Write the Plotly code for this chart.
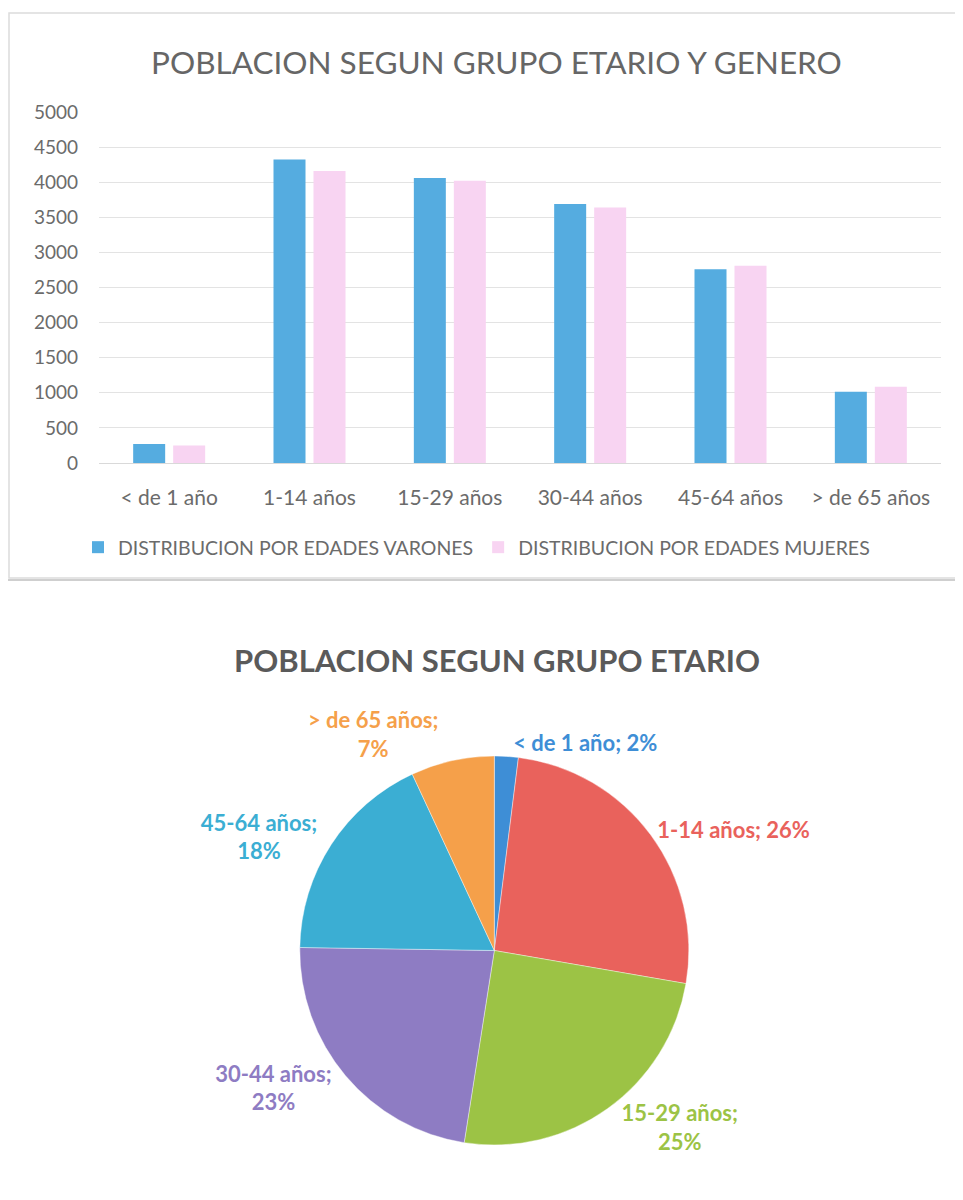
import plotly.graph_objects as go

categories = ["< de 1 año", "1-14 años", "15-29 años", "30-44 años", "45-64 años", "> de 65 años"]
varones = [270, 4325, 4060, 3690, 2760, 1015]
mujeres = [250, 4160, 4020, 3640, 2810, 1085]
series_names = ["DISTRIBUCION POR EDADES VARONES", "DISTRIBUCION POR EDADES MUJERES"]
y_ticks = [0, 500, 1000, 1500, 2000, 2500, 3000, 3500, 4000, 4500, 5000]

pie_labels = ["< de 1 año", "1-14 años", "15-29 años", "30-44 años", "45-64 años", "> de 65 años"]
pie_percent = [2, 26, 25, 23, 18, 7]
pie_colors = ["#3E8ED6", "#E9625C", "#9CC345", "#8E7CC3", "#3BAED3", "#F5A04A"]
pie_templates = ["%{label}; %{value}%", "%{label}; %{value}%", "%{label};<br>%{value}%",
                 "%{label};<br>%{value}%", "%{label};<br>%{value}%", "%{label};<br>%{value}%"]

W, H = 963, 1200
FONT = "Lato, 'Open Sans', sans-serif"
GRAY = "#6b6b6b"


def px(x):
    return x / W


def py(y):
    return 1 - y / H


fig = go.Figure()
fig.add_trace(go.Bar(x=categories, y=varones, name=series_names[0],
                     marker=dict(color="#55ACE0", line=dict(width=0))))
fig.add_trace(go.Bar(x=categories, y=mujeres, name=series_names[1],
                     marker=dict(color="#F8D4F2", line=dict(width=0))))

fig.add_trace(go.Pie(labels=pie_labels, values=pie_percent, sort=False,
                     direction="clockwise", rotation=0,
                     marker=dict(colors=pie_colors, line=dict(color="rgba(255,255,255,0.4)", width=1)),
                     texttemplate=pie_templates, textposition="outside",
                     outsidetextfont=dict(color=pie_colors, size=22, family=FONT, weight="bold"),
                     showlegend=False, hoverinfo="label+percent",
                     domain=dict(x=[0.06, 0.95], y=[py(1137), py(748)])))

fig.update_layout(
    width=W, height=H,
    margin=dict(l=0, r=0, t=0, b=0, autoexpand=False),
    paper_bgcolor="white", plot_bgcolor="white",
    font=dict(family=FONT, color=GRAY),
    barmode="group", bargap=0.43, bargroupgap=0.2,
    xaxis=dict(domain=[px(91), px(933)], showline=True, linecolor="#d9d9d9",
               tickfont=dict(size=21, color=GRAY), ticks="", anchor="y",
               ticklabelstandoff=16, automargin=False),
    yaxis=dict(domain=[py(455), py(104)], range=[0, 5000], tickvals=y_ticks,
               gridcolor="#e3e3e3", tickfont=dict(size=19, color=GRAY), zeroline=False,
               ticklabelstandoff=20, automargin=False),
    legend=dict(orientation="h", x=px(70), xanchor="left", y=py(520), yanchor="top",
                font=dict(size=19.5, color=GRAY), traceorder="normal", itemwidth=30),
    annotations=[
        dict(text="POBLACION SEGUN GRUPO ETARIO Y GENERO", x=px(488), y=py(54),
             xref="paper", yref="paper", showarrow=False, xanchor="center", yanchor="middle",
             font=dict(size=31.5, color="#666666", family=FONT)),
        dict(text="<b>POBLACION SEGUN GRUPO ETARIO</b>", x=px(489), y=py(652),
             xref="paper", yref="paper", showarrow=False, xanchor="center", yanchor="middle",
             font=dict(size=31, color="#5a5a5a", family=FONT)),
    ],
    shapes=[
        dict(type="rect", xref="paper", yref="paper", x0=px(1), x1=px(950),
             y0=py(570), y1=py(5), line=dict(color="#dcdcdc", width=1.5)),
        dict(type="line", xref="paper", yref="paper", x0=0, x1=1,
             y0=py(572), y1=py(572), line=dict(color="#cfcfcf", width=2)),
    ],
)

fig.write_html("out.html")
